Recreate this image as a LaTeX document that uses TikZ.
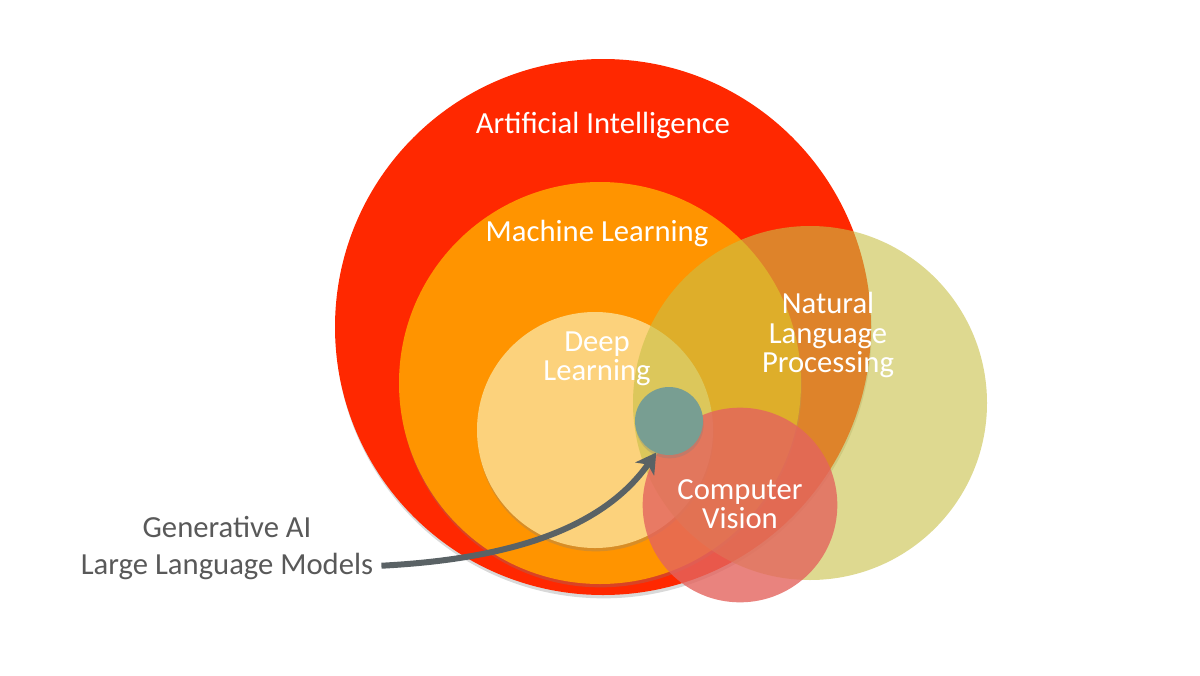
\documentclass[tikz,border=0pt]{standalone}
\usepackage{fontspec}
\setmainfont{Carlito}
\usetikzlibrary{arrows.meta,shadows}

\definecolor{aired}{RGB}{255,40,0}
\definecolor{mlorange}{RGB}{255,148,0}
\definecolor{dlyellow}{RGB}{252,210,124}
\definecolor{nlpgreen}{RGB}{200,192,70}
\definecolor{cvred}{RGB}{228,100,94}
\definecolor{genteal}{RGB}{120,158,146}
\definecolor{arrowgrey}{RGB}{90,98,101}
\definecolor{textgrey}{RGB}{89,89,89}

\begin{document}
\begin{tikzpicture}[
    x=0.75pt, y=-0.75pt,
    disc/.style={
        circle,
        inner sep=0pt,
        outer sep=0pt,
        draw=none
    },
    shadowed/.style={
        drop shadow={shadow xshift=0.5pt,shadow yshift=-2.5pt,opacity=0.3}
    },
    lbl/.style={
        text=white,
        align=center,
        inner sep=0pt,
        font=\fontsize{23}{22}\selectfont
    },
    side/.style={
        text=textgrey,
        inner sep=2pt,
        font=\fontsize{23}{28}\selectfont
    },
    pointer/.style={
        draw=arrowgrey,
        line width=4.5pt,
        shorten <=4pt,
        -{Stealth[length=15pt,width=17pt,inset=4pt]}
    }
]

% ------------------------------------------------
% Canvas
% ------------------------------------------------
\useasboundingbox (0,0) rectangle (1200,675);

% ------------------------------------------------
% Nested fields (sizes in pt, 0.75pt per pixel)
% ------------------------------------------------
\node[disc,shadowed,fill=aired,minimum size=402pt]      (ai)  at (603,327) {};
\node[disc,shadowed,fill=mlorange,minimum size=301.5pt] (ml)  at (600,383) {};
\node[disc,shadowed,fill=dlyellow,minimum size=177pt]   (dl)  at (595,430) {};

% overlapping, see-through fields
\node[disc,fill=nlpgreen,fill opacity=0.6,minimum size=265.5pt] (nlp) at (810,403) {};
\node[disc,fill=cvred,fill opacity=0.8,minimum size=146pt]      (cv)  at (740,505) {};

% generative AI in the middle of it all
\node[disc,shadowed,fill=genteal,minimum size=51pt] (genai) at (669,421) {};

% ------------------------------------------------
% Labels
% ------------------------------------------------
\node[lbl] (ailbl)  at (603,125) {Artificial Intelligence};
\node[lbl] (mllbl)  at (597,233) {Machine Learning};
\node[lbl] (dllbl)  at (597,359) {Deep\\Learning};
\node[lbl] (nlplbl) at (828,335) {Natural\\Language\\Processing};
\node[lbl] (cvlbl)  at (740,504) {Computer\\Vision};

\node[side] (gentxt) at (227,527) {Generative AI};
\node[side] (llmtxt) at (227,566) {Large Language Models};

% ------------------------------------------------
% Pointer
% ------------------------------------------------
\draw[pointer] (llmtxt.east) to[out=3,in=-125,looseness=0.9] (genai.-112);

\end{tikzpicture}
\end{document}
